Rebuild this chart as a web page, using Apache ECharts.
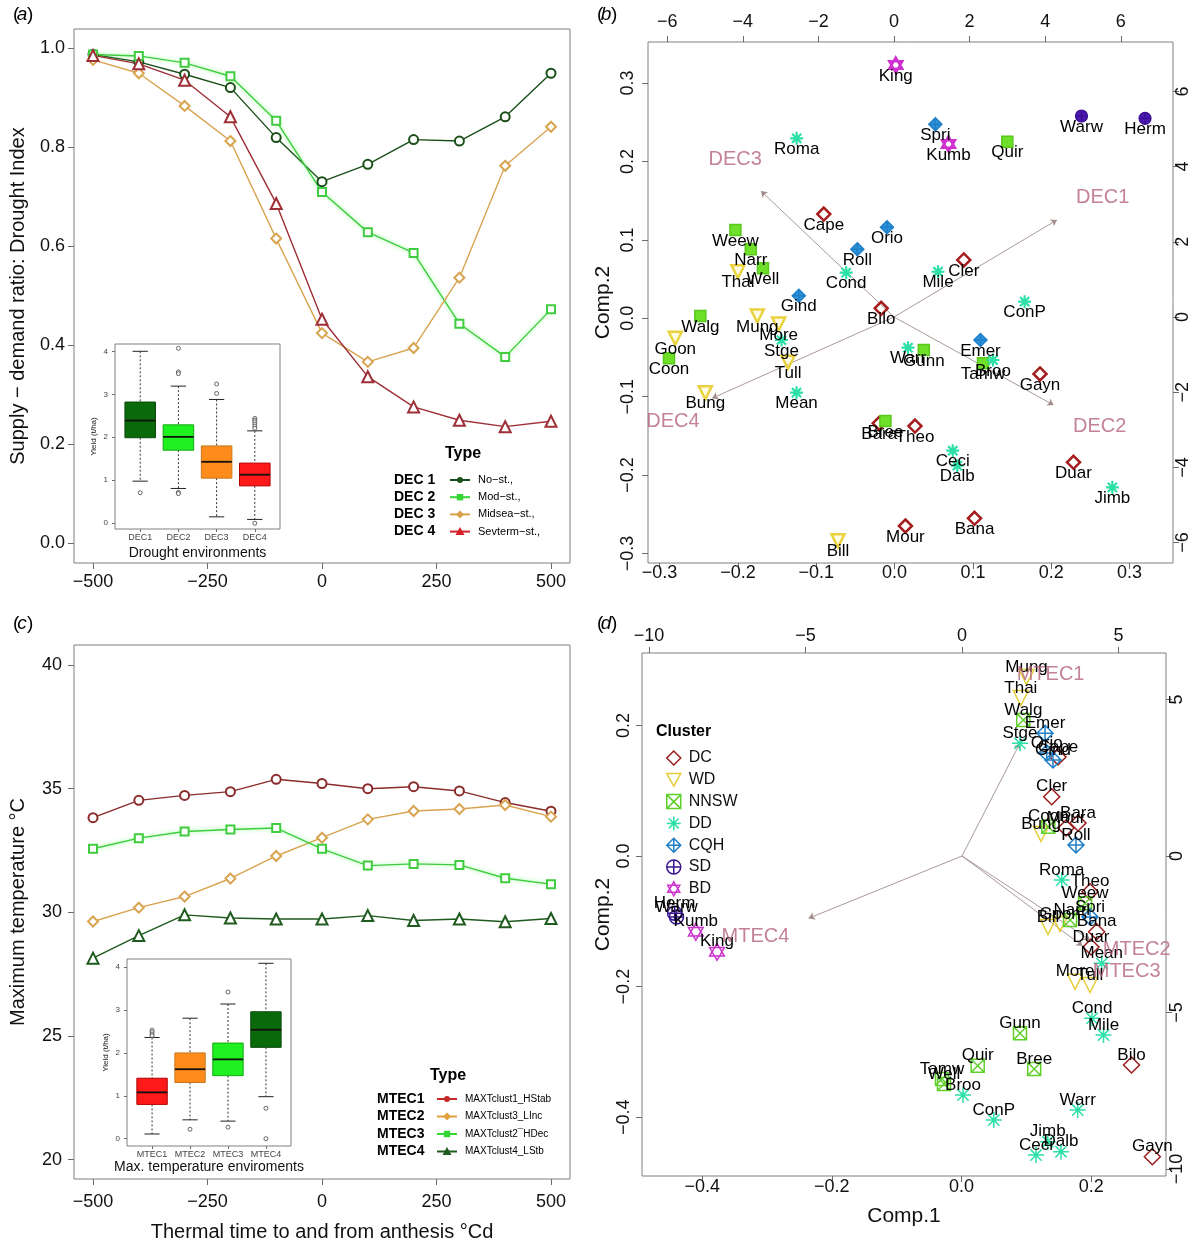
<!DOCTYPE html>
<html>
<head>
<meta charset="utf-8">
<title>Drought and maximum temperature environment clusters</title>
<script src="https://cdn.jsdelivr.net/npm/echarts@6.0.0/dist/echarts.min.js"></script>
<style>
html,body{margin:0;padding:0;background:#ffffff;}
#chart{width:1192px;height:1246px;}
</style>
</head>
<body>
<div id="chart"></div>
<script>
// ================= DATA =================
const thermalTime = [-500,-400,-300,-200,-100,0,100,200,300,400,500];
const thermalTicks = [-500,-250,0,250,500];

// (a) supply-demand ratio (drought index)
const dec1 = [0.987,0.972,0.947,0.920,0.819,0.730,0.765,0.815,0.812,0.861,0.949];
const dec2 = [0.987,0.984,0.970,0.943,0.853,0.709,0.628,0.586,0.443,0.376,0.472];
const dec3 = [0.976,0.949,0.883,0.812,0.615,0.424,0.366,0.394,0.536,0.762,0.841];
const dec4 = [0.985,0.968,0.935,0.861,0.686,0.452,0.336,0.275,0.248,0.235,0.246];
const droughtTicks = [0,0.2,0.4,0.6,0.8,1.0];
const decTypeLabels = ['DEC 1','DEC 2','DEC 3','DEC 4'];
const decTypeDesc = ['No\u2212st.,','Mod\u2212st.,','Midsea\u2212st.,','Sevterm\u2212st.,'];

// (a) inset boxplots: [low whisker, Q1, median, Q3, high whisker]
const decBoxNames = ['DEC1','DEC2','DEC3','DEC4'];
const decBoxStats = [[0.98,1.99,2.39,2.82,4.00],[0.81,1.70,2.01,2.29,3.19],[0.15,1.05,1.43,1.80,2.88],[0.09,0.87,1.13,1.40,2.15]];
const decOutlierGroup = [1,2,2,2,2,2,3,3,4,4,4,4,4,4,4];
const decOutlierValue = [0.71,4.07,3.52,3.48,0.72,0.69,3.24,3.02,2.44,2.40,2.36,2.31,2.26,2.21,0.00];
const yieldTicks = [0,1,2,3,4];

// (c) maximum temperature
const mtec1 = [33.83,34.53,34.73,34.88,35.38,35.21,35.00,35.08,34.91,34.44,34.09];
const mtec2 = [29.63,30.19,30.64,31.37,32.28,33.02,33.76,34.10,34.18,34.34,33.87];
const mtec3 = [32.57,33.00,33.27,33.35,33.41,32.57,31.89,31.96,31.92,31.38,31.14];
const mtec4 = [28.15,29.06,29.90,29.77,29.73,29.73,29.87,29.67,29.73,29.62,29.75];
const tempTicks = [20,25,30,35,40];
const mtecTypeLabels = ['MTEC1','MTEC2','MTEC3','MTEC4'];
const mtecTypeDesc = ['MAXTclust1_HStab','MAXTclust3_LInc','MAXTclust2\u00AFHDec','MAXTclust4_LStb'];

// (c) inset boxplots
const mtecBoxNames = ['MTEC1','MTEC2','MTEC3','MTEC4'];
const mtecBoxStats = [[0.11,0.80,1.08,1.41,2.36],[0.44,1.31,1.62,2.00,2.81],[0.41,1.47,1.85,2.23,3.14],[0.98,2.13,2.54,2.96,4.09]];
const mtecOutlierGroup = [1,1,1,1,2,3,3,4,4];
const mtecOutlierValue = [2.53,2.49,2.44,2.40,0.22,3.42,0.27,0.71,0.00];

// clusters
const clusterNames = ['DC','WD','NNSW','DD','CQH','SD','BD'];

// (b) biplot, drought environment classification
const siteB = ['King','Roma','Spri','Kumb','Quir','Warw','Herm','Cape','Orio','Weew','Roll','Narr','Cond','Mile','Cler','Thal','Well','Gind','ConP','Bilo','Walg','Mung','More','Goon','Stge','Emer','Warr','Gunn','Coon','Tamw','Broo','Tull','Gayn','Bung','Mean','Bree','Bara','Theo','Ceci','Dalb','Duar','Jimb','Bana','Mour','Bill'];
const clusterB = ['BD','DD','CQH','BD','NNSW','SD','SD','DC','CQH','NNSW','CQH','NNSW','DD','DD','DC','WD','NNSW','CQH','DD','DC','NNSW','WD','WD','WD','DD','CQH','DD','NNSW','NNSW','NNSW','DD','WD','DC','WD','DD','NNSW','DC','DC','DD','DD','DC','DD','DC','DC','WD'];
const comp1B = [0.0015,-0.125,0.052,0.0688,0.1439,0.2386,0.3197,-0.0904,-0.0097,-0.2032,-0.0476,-0.1836,-0.0618,0.0554,0.0883,-0.2,-0.168,-0.1223,0.166,-0.0171,-0.248,-0.1753,-0.148,-0.28,-0.1444,0.1096,0.0171,0.0373,-0.288,0.1129,0.1256,-0.136,0.1856,-0.2416,-0.1252,-0.0117,-0.0196,0.026,0.0742,0.08,0.2284,0.278,0.102,0.0138,-0.0723];
const comp2B = [0.323,0.2296,0.2474,0.2223,0.2253,0.258,0.255,0.133,0.1161,0.1126,0.088,0.088,0.0582,0.0594,0.0744,0.0594,0.0638,0.0288,0.0212,0.0128,0.003,0.003,-0.0073,-0.0255,-0.0277,-0.0277,-0.0375,-0.0404,-0.051,-0.0574,-0.0532,-0.0561,-0.071,-0.0949,-0.0949,-0.131,-0.134,-0.1374,-0.1689,-0.188,-0.1837,-0.2156,-0.2551,-0.2649,-0.2837];
const loadNamesB = ['DEC1','DEC2','DEC3','DEC4'];
const loadXB = [4.31,4.22,-3.52,-4.81];
const loadYB = [2.58,-2.34,3.35,-2.16];
const loadLabelXB = [5.52,5.44,-4.20,-5.85];
const loadLabelYB = [3.18,-2.92,4.18,-2.77];
const compTicksB = [-0.3,-0.2,-0.1,0,0.1,0.2,0.3];
const loadTicksB = [-6,-4,-2,0,2,4,6];

// (d) biplot, maximum temperature environment classification
const siteD = ['Mung','Thai','Walg','Emer','Stge','Orio','Cape','Gind','Cler','Coon','Bung','Mour','Bara','Roll','Roma','Theo','Weew','Bill','Goon','Narr','Spri','Bana','Duar','Mean','More','Tull','Cond','Mile','Gunn','Bilo','Quir','Bree','Tamw','Well','Broo','Warr','ConP','Jimb','Dalb','Ceci','Gayn','King','Kumb','Herm','Warw'];
const clusterD = ['WD','WD','NNSW','CQH','DD','CQH','DC','CQH','DC','NNSW','WD','DC','DC','CQH','DD','DC','NNSW','WD','WD','NNSW','CQH','DC','DC','DD','WD','WD','DD','DD','NNSW','DC','NNSW','NNSW','NNSW','NNSW','DD','DD','DD','DD','DD','DD','DC','BD','BD','SD','SD'];
const comp1D = [0.1003,0.0915,0.0953,0.1288,0.0902,0.1314,0.1488,0.1411,0.1391,0.1339,0.1226,0.1612,0.1797,0.1766,0.1546,0.1982,0.1905,0.1334,0.1519,0.1674,0.1982,0.2085,0.1997,0.2163,0.1751,0.1982,0.2013,0.2190,0.0902,0.2622,0.0250,0.1121,-0.0301,-0.0270,0.0023,0.1792,0.0498,0.1330,0.1535,0.1149,0.2943,-0.3771,-0.4098,-0.4425,-0.4396];
const comp2D = [0.2741,0.2420,0.2083,0.1879,0.1726,0.1577,0.1516,0.1470,0.0908,0.0449,0.0337,0.0429,0.0505,0.0168,-0.0368,-0.0547,-0.0724,-0.1087,-0.1041,-0.0980,-0.0934,-0.1159,-0.1394,-0.1643,-0.1925,-0.1975,-0.2485,-0.2741,-0.2715,-0.3201,-0.3211,-0.3262,-0.3415,-0.3492,-0.3660,-0.3890,-0.4043,-0.4375,-0.4528,-0.4579,-0.4605,-0.1466,-0.1159,-0.0877,-0.0934];
const loadNamesD = ['MTEC1','MTEC2','MTEC3','MTEC4'];
const loadXD = [1.85,4.09,3.85,-4.90];
const loadYD = [3.60,-2.68,-2.87,-1.99];
const loadLabelXD = [2.83,5.58,5.26,-6.60];
const loadLabelYD = [5.81,-3.00,-3.70,-2.56];
const compTicksD = [-0.4,-0.2,0,0.2];
const loadTicksD = [-10,-5,0,5];

// ================= STYLE =================
const FONT = '"Liberation Sans", Arial, Helvetica, sans-serif';
const FRAME = '#808080';
const fmt1 = v => (v < -1e-9 ? '\u2212' : '') + Math.abs(v).toFixed(1);
const fmt0 = v => (v < -1e-9 ? '\u2212' : '') + Math.abs(Math.round(v));

const P_TRI_DOWN = 'path://M-1,-0.9 L1,-0.9 L0,0.9 Z';
const P_SQX = 'path://M-1,-1 L1,-1 L1,1 L-1,1 Z M-1,-1 L1,1 M1,-1 L-1,1';
const P_AST = 'path://M0,-1 L0,1 M-1,0 L1,0 M-0.707,-0.707 L0.707,0.707 M-0.707,0.707 L0.707,-0.707';
const P_DPLUS = 'path://M0,-1 L1,0 L0,1 L-1,0 Z M0,-1 L0,1 M-1,0 L1,0';
const P_CPLUS = 'path://M-1,0 A1,1 0 1,1 1,0 A1,1 0 1,1 -1,0 Z M0,-1 L0,1 M-1,0 L1,0';
const P_STAR = 'path://M0,-1 L0.866,0.5 L-0.866,0.5 Z M0,1 L0.866,-0.5 L-0.866,-0.5 Z';

const styleB = {
  DC:   {symbol:'diamond', size:13, fill:'rgba(0,0,0,0)', stroke:'#a51c1c', w:2.5},
  WD:   {symbol:P_TRI_DOWN, size:13, fill:'rgba(255,250,200,0.5)', stroke:'#ead23c', w:2.5},
  NNSW: {symbol:'rect', size:11, fill:'#6ee02a', stroke:'#58c81c', w:1.5},
  DD:   {symbol:P_AST, size:13, fill:'rgba(0,0,0,0)', stroke:'#2de0a8', w:2.2},
  CQH:  {symbol:P_DPLUS, size:13, fill:'#2f93d8', stroke:'#1f7fc8', w:1.5},
  SD:   {symbol:P_CPLUS, size:12, fill:'#4a18b0', stroke:'#3a1090', w:1.2},
  BD:   {symbol:P_STAR, size:15, fill:'rgba(0,0,0,0)', stroke:'#d030d0', w:2.5, keep:true}
};
const styleD = {
  DC:   {symbol:'diamond', size:16, fill:'rgba(0,0,0,0)', stroke:'#9b1c1c', w:1.5},
  WD:   {symbol:P_TRI_DOWN, size:15, fill:'rgba(0,0,0,0)', stroke:'#e6cd3a', w:1.5},
  NNSW: {symbol:P_SQX, size:13, fill:'rgba(0,0,0,0)', stroke:'#5fcf2a', w:1.5},
  DD:   {symbol:P_AST, size:16, fill:'rgba(0,0,0,0)', stroke:'#2de0a8', w:1.5},
  CQH:  {symbol:P_DPLUS, size:16, fill:'rgba(0,0,0,0)', stroke:'#1f7fc8', w:1.5},
  SD:   {symbol:P_CPLUS, size:14, fill:'rgba(0,0,0,0)', stroke:'#3a1590', w:1.5},
  BD:   {symbol:P_STAR, size:17, fill:'rgba(0,0,0,0)', stroke:'#cc33cc', w:1.5, keep:true}
};

// ================= HELPERS =================
function vAxis(c) {
  return {
    type:'value', gridIndex:c.grid, position:c.pos, min:c.min, max:c.max,
    axisLine:{show:false, onZero:false}, splitLine:{show:false}, splitArea:{show:false},
    axisTick:{show:true, inside:false, length:c.tick || 6, customValues:c.ticks, lineStyle:{color:'#6a6a6a', width:1}},
    axisLabel:{show:true, customValues:c.ticks, formatter:c.fmt, margin:c.margin, rotate:c.rotate || 0,
      fontSize:c.fs || 18, color:c.lc || '#111', fontFamily:FONT},
    name:c.name || '', nameLocation:'middle', nameGap:c.gap || 0, nameMoveOverlap:false,
    nameTextStyle:{fontSize:c.nfs || 20, color:'#111', fontFamily:FONT},
    silent:true
  };
}

function lineSeries(vals, xi, color, symbol, size, extra) {
  const s = {
    type:'line', xAxisIndex:xi, yAxisIndex:xi,
    data: thermalTime.map((t, i) => [t, vals[i]]),
    symbol: symbol, symbolSize: size, showSymbol:true,
    lineStyle:{color:color, width:1.4},
    itemStyle:{color:color, borderColor:color, borderWidth:1.6},
    emphasis:{disabled:true}, silent:true, z:3
  };
  return Object.assign(s, extra || {});
}

function boxSeries(stats, xi, fills, strokes) {
  return {
    type:'custom', xAxisIndex:xi, yAxisIndex:xi, silent:true, z:5,
    data: stats.map((s, i) => [i + 1, s[0], s[1], s[2], s[3], s[4]]),
    renderItem: function (params, api) {
      const x = api.value(0), lo = api.value(1), q1 = api.value(2), md = api.value(3), q3 = api.value(4), hi = api.value(5);
      const i = params.dataIndex;
      const tl = api.coord([x - 0.4, q3]), br = api.coord([x + 0.4, q1]);
      const cHi = api.coord([x, hi]), cQ3 = api.coord([x, q3]), cQ1 = api.coord([x, q1]), cLo = api.coord([x, lo]);
      const capL = api.coord([x - 0.2, hi])[0], capR = api.coord([x + 0.2, hi])[0];
      const mL = api.coord([x - 0.4, md]), mR = api.coord([x + 0.4, md]);
      const dash = {stroke:'#333', lineWidth:1, lineDash:[2, 2]};
      const solid = {stroke:'#222', lineWidth:1};
      return {type:'group', children:[
        {type:'line', shape:{x1:cHi[0], y1:cHi[1], x2:cQ3[0], y2:cQ3[1]}, style:dash},
        {type:'line', shape:{x1:cQ1[0], y1:cQ1[1], x2:cLo[0], y2:cLo[1]}, style:dash},
        {type:'line', shape:{x1:capL, y1:cHi[1], x2:capR, y2:cHi[1]}, style:solid},
        {type:'line', shape:{x1:capL, y1:cLo[1], x2:capR, y2:cLo[1]}, style:solid},
        {type:'rect', shape:{x:tl[0], y:tl[1], width:br[0] - tl[0], height:br[1] - tl[1]}, style:{fill:fills[i], stroke:strokes[i], lineWidth:1}},
        {type:'line', shape:{x1:mL[0], y1:mL[1], x2:mR[0], y2:mR[1]}, style:{stroke:'#111', lineWidth:1.8}}
      ]};
    }
  };
}

function outlierSeries(groups, values, xi) {
  return {
    type:'scatter', xAxisIndex:xi, yAxisIndex:xi, silent:true, z:6,
    data: groups.map((g, i) => [g, values[i]]),
    symbol:'circle', symbolSize:4,
    itemStyle:{color:'#fff', borderColor:'#444', borderWidth:1}
  };
}

function clusterSeries(sites, clusters, c1, c2, axisIdx, styles, labelDy, namePrefix) {
  return clusterNames.map(cl => {
    const st = styles[cl];
    const data = [];
    sites.forEach((s, i) => { if (clusters[i] === cl) data.push({name:s, value:[c1[i], c2[i]]}); });
    return {
      name: namePrefix + cl, type:'scatter', xAxisIndex:axisIdx, yAxisIndex:axisIdx,
      data: data, symbol: st.symbol, symbolSize: st.size, symbolKeepAspect: !!st.keep,
      itemStyle:{color:st.fill, borderColor:st.stroke, borderWidth:st.w, opacity:1},
      label:{show:true, position:'inside', offset:[0, labelDy], formatter:'{b}', color:'#000',
        fontSize:17, fontFamily:FONT, textBorderWidth:0},
      emphasis:{disabled:true}, silent:true, z:4
    };
  });
}

function loadingSeries(names, lx, ly, tx, ty, axisIdx) {
  return [
    {
      type:'lines', coordinateSystem:'cartesian2d', xAxisIndex:axisIdx, yAxisIndex:axisIdx,
      data: names.map((n, i) => ({coords:[[0, 0], [lx[i], ly[i]]]})),
      symbol:['none', 'arrow'], symbolSize:6,
      lineStyle:{color:'#a08c8c', width:0.9, opacity:1, curveness:0},
      silent:true, z:3
    },
    {
      type:'scatter', xAxisIndex:axisIdx, yAxisIndex:axisIdx,
      data: names.map((n, i) => ({name:n, value:[tx[i], ty[i]]})),
      symbolSize:1, itemStyle:{color:'rgba(0,0,0,0)'},
      label:{show:true, position:'inside', formatter:'{b}', color:'#b4637a', fontSize:20, fontFamily:FONT},
      emphasis:{disabled:true}, silent:true, z:7
    }
  ];
}

// ================= GRAPHICS (panel letters, legends) =================
const gfx = [];
function gText(x, y, s, o) {
  o = o || {};
  gfx.push({type:'text', x:x, y:y, silent:true, z:20, style:{
    text:s, fill:o.color || '#000', fontSize:o.fs || 14, fontWeight:o.fw || 'normal', fontFamily:FONT,
    fontStyle:o.italic ? 'italic' : 'normal',
    align:o.align || 'left', verticalAlign:'middle', textAlign:o.align || 'left', textVerticalAlign:'middle'
  }});
}
function gMark(kind, cx, cy, color) {
  if (kind === 'circle') gfx.push({type:'circle', shape:{cx:cx, cy:cy, r:3}, style:{fill:color}, z:20, silent:true});
  else if (kind === 'rect') gfx.push({type:'rect', shape:{x:cx - 3.2, y:cy - 3.2, width:6.4, height:6.4}, style:{fill:color}, z:20, silent:true});
  else if (kind === 'diamond') gfx.push({type:'polygon', shape:{points:[[cx, cy - 4], [cx + 4, cy], [cx, cy + 4], [cx - 4, cy]]}, style:{fill:color}, z:20, silent:true});
  else gfx.push({type:'polygon', shape:{points:[[cx, cy - 4.5], [cx + 4.5, cy + 3.5], [cx - 4.5, cy + 3.5]]}, style:{fill:color}, z:20, silent:true});
}
function panelLetter(x, y, letter) {
  gText(x - 9, y, '(', {fs:19});
  gText(x, y, letter, {fs:19, italic:true, align:'center'});
  gText(x + 5, y, ')', {fs:19});
}
panelLetter(22, 15, 'a');
panelLetter(606, 15, 'b');
panelLetter(22, 624, 'c');
panelLetter(606, 624, 'd');

const decLegendColors = ['#1a4f1a', '#33d633', '#d9a24c', '#d41f26'];
const decLegendMarks = ['circle', 'rect', 'diamond', 'triangle'];
gText(463, 454, 'Type', {fs:16, fw:'bold', align:'center'});
decTypeLabels.forEach((lab, i) => {
  const y = 480 + i * 17.2;
  gText(394, y, lab, {fs:14, fw:'bold'});
  gfx.push({type:'line', shape:{x1:450, y1:y, x2:470, y2:y}, style:{stroke:decLegendColors[i], lineWidth:2}, z:20, silent:true});
  gMark(decLegendMarks[i], 460, y, decLegendColors[i]);
  gText(478, y, decTypeDesc[i], {fs:11});
});

const mtecLegendColors = ['#c42a2a', '#e0a040', '#33d633', '#1f5a1f'];
const mtecLegendMarks = ['circle', 'diamond', 'rect', 'triangle'];
gText(448, 1076, 'Type', {fs:16, fw:'bold', align:'center'});
mtecTypeLabels.forEach((lab, i) => {
  const y = 1099 + i * 17.5;
  gText(377, y, lab, {fs:14, fw:'bold'});
  gfx.push({type:'line', shape:{x1:437, y1:y, x2:457, y2:y}, style:{stroke:mtecLegendColors[i], lineWidth:2}, z:20, silent:true});
  gMark(mtecLegendMarks[i], 447, y, mtecLegendColors[i]);
  gText(465, y, mtecTypeDesc[i], {fs:10});
});

gText(656, 732, 'Cluster', {fs:16, fw:'bold'});

// ================= OPTION =================
const gridBase = {show:true, borderColor:FRAME, borderWidth:1, containLabel:false, outerBoundsMode:'none'};
const option = {
  animation:false,
  backgroundColor:'#ffffff',
  textStyle:{fontFamily:FONT},
  grid:[
    Object.assign({left:74, top:29, width:496, height:534}, gridBase),
    Object.assign({left:115, top:344, width:165, height:185, backgroundColor:'#fff', z:2}, gridBase),
    Object.assign({left:74, top:645, width:496, height:534}, gridBase),
    Object.assign({left:127, top:959, width:164, height:187, backgroundColor:'#fff', z:2}, gridBase),
    Object.assign({left:648, top:42, width:525, height:521}, gridBase),
    Object.assign({left:642, top:653, width:524, height:523}, gridBase)
  ],
  xAxis:[
    vAxis({grid:0, pos:'bottom', min:-541.5, max:541.5, ticks:thermalTicks, fmt:fmt0, margin:10}),
    vAxis({grid:1, pos:'bottom', min:0.34, max:4.66, ticks:[1,2,3,4], fmt:v => decBoxNames[Math.round(v) - 1], margin:4, fs:9, lc:'#444', tick:3,
      name:'Drought environments', gap:17, nfs:14}),
    vAxis({grid:2, pos:'bottom', min:-541.5, max:541.5, ticks:thermalTicks, fmt:fmt0, margin:14,
      name:'Thermal time to and from anthesis \u00B0Cd', gap:43, nfs:20}),
    vAxis({grid:3, pos:'bottom', min:0.34, max:4.66, ticks:[1,2,3,4], fmt:v => mtecBoxNames[Math.round(v) - 1], margin:4, fs:9, lc:'#444', tick:3,
      name:'Max. temperature enviroments', gap:14, nfs:14}),
    vAxis({grid:4, pos:'bottom', min:-0.3148, max:0.3554, ticks:compTicksB, fmt:fmt1, margin:1}),
    vAxis({grid:4, pos:'top', min:-6.508, max:7.381, ticks:loadTicksB, fmt:fmt0, margin:11}),
    vAxis({grid:5, pos:'bottom', min:-0.4928, max:0.3154, ticks:compTicksD, fmt:fmt1, margin:2,
      name:'Comp.1', gap:30, nfs:21}),
    vAxis({grid:5, pos:'top', min:-10.224, max:6.518, ticks:loadTicksD, fmt:fmt0, margin:8})
  ],
  yAxis:[
    vAxis({grid:0, pos:'left', min:-0.0404, max:1.0384, ticks:droughtTicks, fmt:fmt1, margin:9,
      name:'Supply \u2212 demand ratio: Drought Index', gap:46, nfs:20}),
    vAxis({grid:1, pos:'left', min:-0.133, max:4.17, ticks:yieldTicks, fmt:fmt0, margin:7, fs:8, lc:'#444', tick:3,
      name:'Yield (t/ha)', gap:17, nfs:8}),
    vAxis({grid:2, pos:'left', min:19.22, max:40.81, ticks:tempTicks, fmt:fmt0, margin:12,
      name:'Maximum temperature \u00B0C', gap:46, nfs:20}),
    vAxis({grid:3, pos:'left', min:-0.17, max:4.19, ticks:yieldTicks, fmt:fmt0, margin:7, fs:8, lc:'#444', tick:3,
      name:'Yield (t/ha)', gap:17, nfs:8}),
    vAxis({grid:4, pos:'left', min:-0.3121, max:0.3524, ticks:compTicksB, fmt:fmt1, margin:11, rotate:90,
      name:'Comp.2', gap:34, nfs:21}),
    vAxis({grid:4, pos:'right', min:-6.543, max:7.314, ticks:loadTicksB, fmt:fmt0, margin:1, rotate:90}),
    vAxis({grid:5, pos:'left', min:-0.49, max:0.3109, ticks:compTicksD, fmt:fmt1, margin:9, rotate:90,
      name:'Comp.2', gap:28, nfs:21}),
    vAxis({grid:5, pos:'right', min:-10.224, max:6.486, ticks:loadTicksD, fmt:fmt0, margin:2, rotate:90})
  ],
  legend:{
    show:true, orient:'vertical', left:661, top:745, itemWidth:14, itemHeight:14, itemGap:5.8,
    selectedMode:false,
    textStyle:{fontSize:16, color:'#111', fontFamily:FONT, lineHeight:14, padding:[0, 0, 0, 3]},
    data: clusterNames.map(cl => ({
      name: cl,
      icon: styleD[cl].symbol,
      itemStyle:{color:styleD[cl].fill, borderColor:styleD[cl].stroke, borderWidth:1.5}
    }))
  },
  graphic: gfx,
  series: [].concat(
    // panel (a)
    [
      lineSeries(dec1, 0, '#1a4f1a', 'emptyCircle', 9),
      lineSeries(dec2, 0, '#3fcc3f', 'emptyRect', 8, {lineStyle:{color:'#3fcc3f', width:1.4, shadowBlur:4, shadowColor:'rgba(120,255,120,0.9)'}}),
      lineSeries(dec3, 0, '#d8a450', 'emptyDiamond', 10),
      lineSeries(dec4, 0, '#9e2f37', 'emptyTriangle', 11)
    ],
    [boxSeries(decBoxStats, 1, ['#0a6a0a', '#1ff01f', '#ff8c1a', '#ff1a1a'], ['#0c4a0c', '#13a813', '#c8781e', '#b00000']),
     outlierSeries(decOutlierGroup, decOutlierValue, 1)],
    // panel (c)
    [
      lineSeries(mtec1, 2, '#8a2c2c', 'emptyCircle', 9),
      lineSeries(mtec2, 2, '#d8a450', 'emptyDiamond', 10),
      lineSeries(mtec3, 2, '#3fcc3f', 'emptyRect', 8, {lineStyle:{color:'#3fcc3f', width:1.4, shadowBlur:4, shadowColor:'rgba(120,255,120,0.9)'}}),
      lineSeries(mtec4, 2, '#1f5a1f', 'emptyTriangle', 11)
    ],
    [boxSeries(mtecBoxStats, 3, ['#ff1a1a', '#ff8c1a', '#1ff01f', '#0a6a0a'], ['#b00000', '#c8781e', '#13a813', '#0c4a0c']),
     outlierSeries(mtecOutlierGroup, mtecOutlierValue, 3)],
    // panel (b)
    loadingSeries(loadNamesB, loadXB, loadYB, loadLabelXB, loadLabelYB, 5),
    clusterSeries(siteB, clusterB, comp1B, comp2B, 4, styleB, 11, 'b_'),
    // panel (d)
    loadingSeries(loadNamesD, loadXD, loadYD, loadLabelXD, loadLabelYD, 7),
    clusterSeries(siteD, clusterD, comp1D, comp2D, 6, styleD, -10, '')
  )
};

const chart = echarts.init(document.getElementById('chart'), null, {renderer:'canvas', width:1192, height:1246});
chart.setOption(option);
</script>
</body>
</html>
